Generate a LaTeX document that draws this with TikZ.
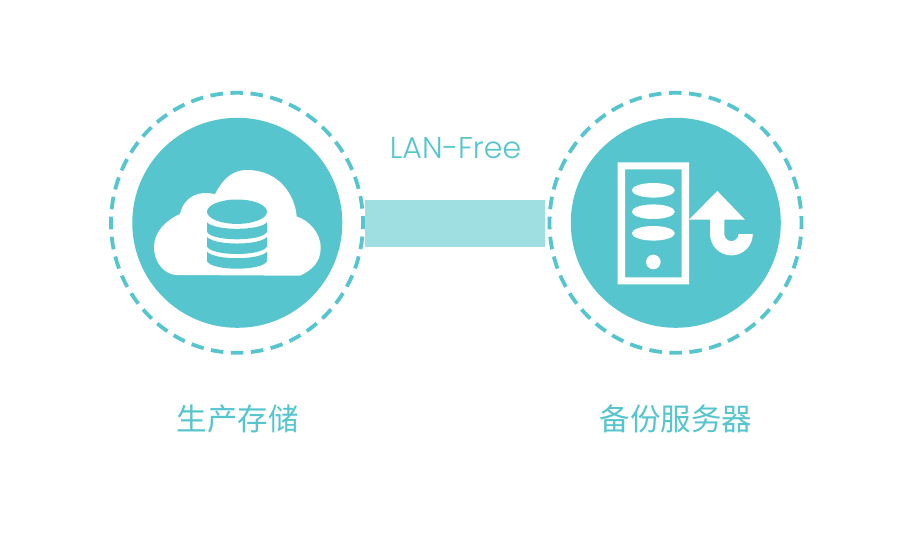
\documentclass[tikz,border=0pt]{standalone}
\usepackage{fontspec}
\usepackage{xcolor}
\usetikzlibrary{positioning}
\setmainfont{Poppins Light}
\newfontfamily\cjkfont{Noto Sans CJK SC}
\definecolor{teal1}{HTML}{56C5CD}
\definecolor{teal2}{HTML}{A0DFE1}
\tikzset{
    disc/.style={circle, fill=teal1, minimum size=210pt, inner sep=0pt},
    link/.style={rectangle, fill=teal2, minimum width=180pt, minimum height=47pt, inner sep=0pt},
    caption/.style={text=teal1, font=\fontsize{30.5pt}{31pt}\selectfont\cjkfont},
    ring/.style={draw=teal1, line width=3.8pt, dash pattern=on 12.6pt off 7.5pt, dash phase=6.3pt},
    icon/.style={fill=white, draw=none},
    band/.style={fill=teal1, draw=none}
}
\begin{document}
\begin{tikzpicture}[x=1pt, y=-1pt]
    \useasboundingbox (0,0) rectangle (920,535);
    \fill[white] (0,0) rectangle (920,535);

    % Rings and discs
    \draw[ring] (237,222.8) ellipse [x radius=126, y radius=130];
    \draw[ring] (675.5,222.8) ellipse [x radius=126, y radius=130];
    \node[disc] (storage) at (237.3,222.8) {};
    \node[disc] (backup) at (675.8,222.8) {};

    % Link between them
    \node[link] (lanfree) at (455,223.5) {};
    \node[text=teal1, font=\fontsize{30pt}{31pt}\selectfont] (lanlabel) at (455.5,148) {LAN-Free};

    % Captions
    \node[caption] (storagelabel) at (237.5,419) {生产存储};
    \node[caption] (backuplabel) at (676,419) {备份服务器};

    % Cloud
    \fill[icon] (176.7,275) -- (300,275.7)
        .. controls (312,270) and (320.7,262) .. (320.7,248)
        .. controls (320.7,232) and (308,220) .. (296.7,216.5)
        .. controls (295,196) and (280,170) .. (246.7,170)
        .. controls (232,170) and (222,180) .. (215,194.3)
        .. controls (200,190) and (184,196) .. (180,214)
        .. controls (166,220) and (154,232) .. (154,247)
        .. controls (154,264) and (166,275) .. (176.7,275) -- cycle;

    % Database
    \fill[band] (237,211.7) ellipse [x radius=30, y radius=12.2];
    \foreach \y in {222.3,237,251.7} {
        \fill[band] (207,\y) .. controls (215,\y+8.7) and (259,\y+8.7) .. (267,\y)
            -- (267,\y+9.5) .. controls (262,\y+19.5) and (212,\y+19.5) .. (207,\y+9.5) -- cycle;
    }

    % Server
    \fill[icon, even odd rule] (617.7,162.3) rectangle (689,284.3) (625,169.3) rectangle (681.7,277.3);
    \foreach \y in {190.3,211.7,233.3} {
        \fill[icon] (653.3,\y) ellipse [x radius=21.5, y radius=7.3];
    }
    \fill[icon] (653.3,262) circle (7.3);

    % Arrow
    \fill[icon] (689,219.7) -- (717.3,191) -- (745,219.7) -- (724.3,219.7) -- (724.3,234)
        arc [start angle=180, end angle=360, x radius=7.1, y radius=-7.1]
        -- (752.8,234)
        arc [start angle=0, end angle=180, x radius=21.4, y radius=21.4]
        -- (710,219.7) -- cycle;
\end{tikzpicture}
\end{document}
